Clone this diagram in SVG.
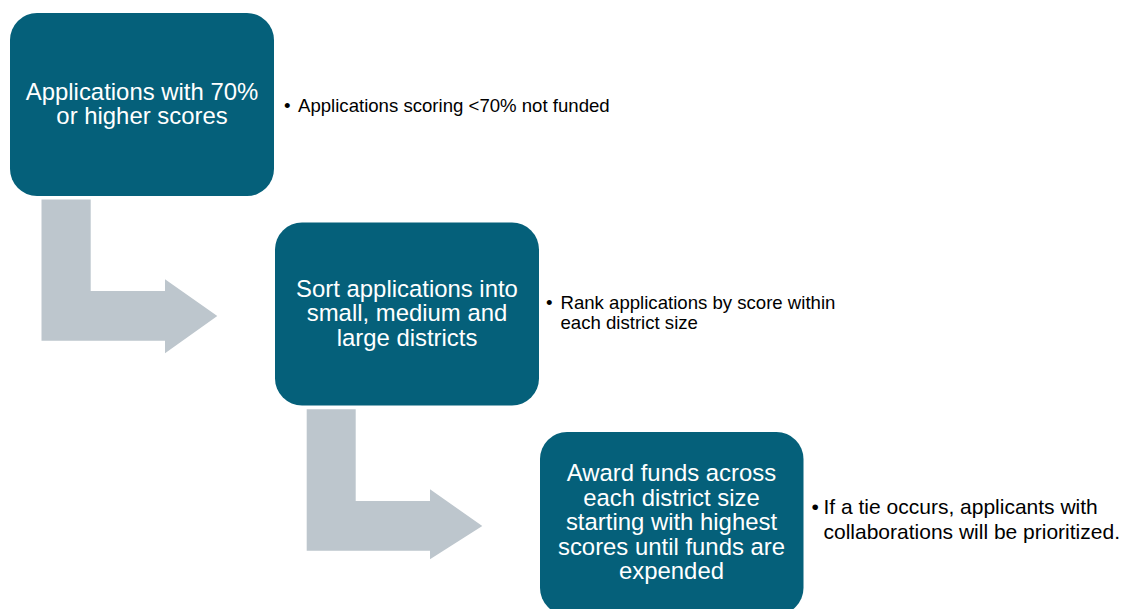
<svg xmlns="http://www.w3.org/2000/svg" width="1127" height="609" viewBox="0 0 1127 609">
<style>
.box{fill:#05607A}
.arrow{fill:#BDC6CD}
.bt{font-family:"Liberation Sans",Arial,sans-serif;font-size:23.9px;fill:#FFFFFF;text-anchor:middle}
.note{font-family:"Liberation Sans",Arial,sans-serif;font-size:18.6px;fill:#000000}
.note3{font-family:"Liberation Sans",Arial,sans-serif;font-size:21px;fill:#000000}
</style>
<rect width="1127" height="609" fill="#FFFFFF"/>
<g id="connectors">
<path class="arrow" d="M41.5,199.5 H90.7 V291 H165 V279.3 L217.3,316 L165,353.3 V340.7 H41.5 Z"/>
<path class="arrow" d="M306.7,409.3 H355.7 V501 H430 V489.3 L482.3,526 L430,559.3 V550.7 H306.7 Z"/>
</g>
<g id="node1">
<rect class="box" x="10" y="13" width="264" height="183" rx="27"/>
<text class="bt" x="142" y="99.8">Applications with 70%<tspan x="142" dy="24.5">or higher scores</tspan></text>
</g>
<g id="note1">
<text class="note" x="284" y="111.5">•</text>
<text class="note" x="298" y="111.5">Applications scoring &lt;70% not funded</text>
</g>
<g id="node2">
<rect class="box" x="275" y="222.5" width="264" height="183" rx="27"/>
<text class="bt" x="407" y="296.6">Sort applications into<tspan x="407" dy="24.5">small, medium and</tspan><tspan x="407" dy="24.5">large districts</tspan></text>
</g>
<g id="note2">
<text class="note" x="546" y="309">•</text>
<text class="note" x="560.5" y="309">Rank applications by score within<tspan x="560.5" dy="20">each district size</tspan></text>
</g>
<g id="node3">
<rect class="box" x="540" y="432" width="263.5" height="183" rx="27"/>
<text class="bt" x="671.5" y="481">Award funds across<tspan x="671.5" dy="24.5">each district size</tspan><tspan x="671.5" dy="24.5">starting with highest</tspan><tspan x="671.5" dy="24.5">scores until funds are</tspan><tspan x="671.5" dy="24.5">expended</tspan></text>
</g>
<g id="note3">
<text class="note3" x="811.5" y="514">•</text>
<text class="note3" x="823.5" y="514">If a tie occurs, applicants with<tspan x="823.5" dy="25">collaborations will be prioritized.</tspan></text>
</g>
</svg>
